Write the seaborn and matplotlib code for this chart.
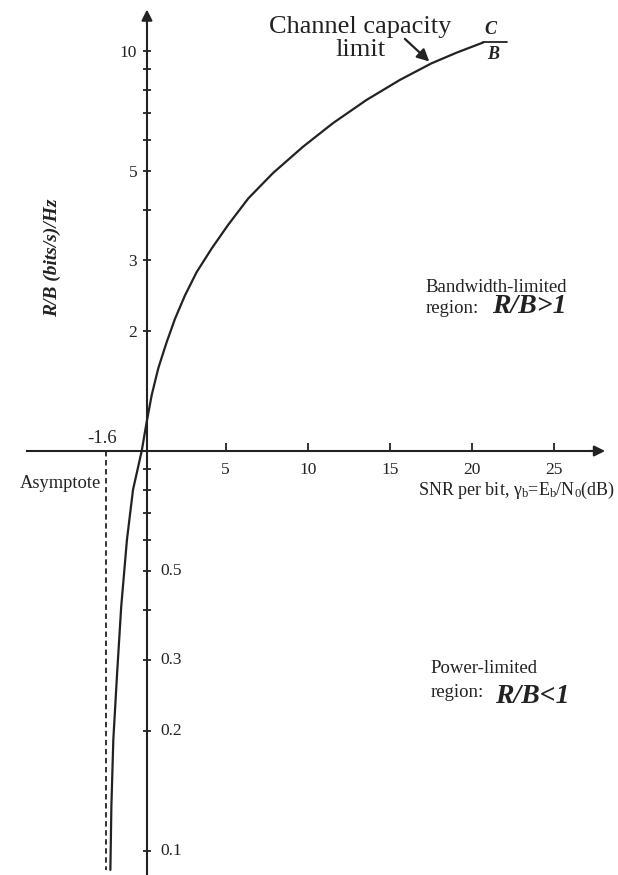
import numpy as np
from matplotlib import pyplot as plt
import seaborn as sns
import pandas as pd

sns.set_theme(style='white')
plt.rcParams['font.family'] = ['Liberation Serif', 'DejaVu Serif']
plt.rcParams['mathtext.fontset'] = 'custom'
plt.rcParams['mathtext.rm'] = 'Liberation Serif'
plt.rcParams['mathtext.it'] = 'Liberation Serif:italic'
plt.rcParams['mathtext.bf'] = 'Liberation Serif:bold'

# curve: Eb/N0 (dB) against R/B
snr_db = [-2.03, -1.97, -1.85, -1.62, -1.37, -1.02, -0.65, -0.12, 0.18, 0.49,
          0.89, 1.40, 1.91, 2.52, 3.23, 4.15, 5.16, 6.38, 7.88, 9.71,
          11.54, 13.58, 15.61, 17.54, 19.07, 20.70]
rate = [0.0897, 0.129, 0.19, 0.278, 0.408, 0.60, 0.80, 1.0, 1.18, 1.38,
        1.61, 1.87, 2.14, 2.45, 2.80, 3.21, 3.68, 4.28, 4.95, 5.76,
        6.60, 7.54, 8.46, 9.31, 9.90, 10.50]

x_ticks = [5, 10, 15, 20, 25]
upper_labels = [2, 3, 5, 10]
lower_labels = [0.1, 0.2, 0.3, 0.5]
other_ticks = [0.4, 0.6, 0.7, 0.8, 0.9, 4, 6, 7, 8, 9]
asymptote_x = -2.27
asymptote_text = '-1.6'
axis_x = 0.2

ink = '#222222'

fig = plt.figure(figsize=(6.18, 8.75), dpi=100)
ax = fig.add_axes([0, 0, 1, 1])
ax.set_yscale('log')
ax.set_xlim(-8.76, 28.92)
ax.set_ylim(0.0871, 13.41)

df = pd.DataFrame({'snr': snr_db, 'rate': rate})
sns.lineplot(data=df, x='snr', y='rate', ax=ax, color=ink, lw=1.6,
             estimator=None, sort=False)

# asymptote
ax.plot([asymptote_x, asymptote_x], [1, min(rate)], color=ink, lw=1.3,
        ls=(0, (3, 2)))

# axes through the origin
for s in ['top', 'right']:
    ax.spines[s].set_visible(False)
ax.spines['left'].set_position(('data', axis_x))
ax.spines['bottom'].set_position(('data', 1))
ax.spines['left'].set_bounds(0.0871, 12.0)
ax.spines['bottom'].set_bounds(-7.13, 27.5)
for s in ['left', 'bottom']:
    ax.spines[s].set_color(ink)
    ax.spines[s].set_linewidth(1.5)
ax.annotate('', xy=(28.3, 1), xytext=(27.0, 1),
            arrowprops=dict(arrowstyle='-|>', color=ink, lw=1.5, mutation_scale=16))
ax.annotate('', xy=(axis_x, 12.9), xytext=(axis_x, 11.5),
            arrowprops=dict(arrowstyle='-|>', color=ink, lw=1.5, mutation_scale=16))

ax.set_xticks(x_ticks)
ax.set_xticklabels([str(t) for t in x_ticks])
ax.tick_params(axis='x', direction='in', length=6, width=1.3, color=ink,
               pad=8, labelsize=12.5, labelcolor=ink, bottom=True)

yt = sorted(upper_labels + lower_labels + other_ticks)
ax.set_yticks(yt)
ax.set_yticklabels([str(t) if t in upper_labels else '' for t in yt])
ax.yaxis.set_minor_locator(plt.NullLocator())
ax.tick_params(axis='y', direction='inout', length=6, width=1.3, color=ink,
               pad=4, labelsize=12.5, labelcolor=ink, left=True)
for v in lower_labels:
    ax.annotate(str(v), xy=(axis_x, v), xytext=(10, 0), textcoords='offset points',
                va='center', ha='left', fontsize=12.5, color=ink)

ax.set_xlabel('')
ax.set_ylabel('')

# texts
fig.text(0.084, 0.705, 'R/B (bits/s)/Hz', rotation=90, ha='center', va='center',
         fontsize=14, fontweight='bold', fontstyle='italic', color=ink)
fig.text(0.583, 0.982, 'Channel capacity\nlimit', ha='center', va='top',
         multialignment='center', fontsize=19, linespacing=1.08, color=ink)
ax.annotate('', xy=(snr_db[-3], rate[-3]), xytext=(15.8, 10.84),
            arrowprops=dict(arrowstyle='-|>', color=ink, lw=1.6, mutation_scale=18))
end = (snr_db[-1], rate[-1])
ax.annotate('C', xy=end, xytext=(5.5, 9.5), textcoords='offset points',
            ha='center', va='center', fontsize=13, fontweight='bold',
            fontstyle='italic', color=ink)
ax.annotate('B', xy=end, xytext=(7, -9), textcoords='offset points',
            ha='center', va='center', fontsize=13, fontweight='bold',
            fontstyle='italic', color=ink)
fig.add_artist(plt.Line2D([483 / 618, 507 / 618], [1 - 42 / 875, 1 - 42 / 875],
                          color=ink, lw=1.3))

fig.text(0.688, 0.666, 'Bandwidth-limited', va='baseline', fontsize=13.5, color=ink)
fig.text(0.688, 0.642, 'region:', va='baseline', fontsize=13.5, color=ink)
fig.text(0.796, 0.642, 'R/B>1', va='baseline', fontsize=20, fontweight='bold',
         fontstyle='italic', color=ink)
fig.text(0.696, 0.231, 'Power-limited', va='baseline', fontsize=13.5, color=ink)
fig.text(0.696, 0.2034, 'region:', va='baseline', fontsize=13.5, color=ink)
fig.text(0.801, 0.197, 'R/B<1', va='baseline', fontsize=20, fontweight='bold',
         fontstyle='italic', color=ink)

fig.text(0.676, 0.434, 'SNR per bit, γ$_\\mathrm{b}$=E$_\\mathrm{b}$/N$_0$(dB)',
         va='baseline', fontsize=13, color=ink)
fig.text(0.032, 0.442, 'Asymptote', va='baseline', fontsize=13.3, color=ink)
fig.text(0.189, 0.494, asymptote_text, va='baseline', ha='right', fontsize=13.5, color=ink)

fig.savefig('out.png', dpi=100)
